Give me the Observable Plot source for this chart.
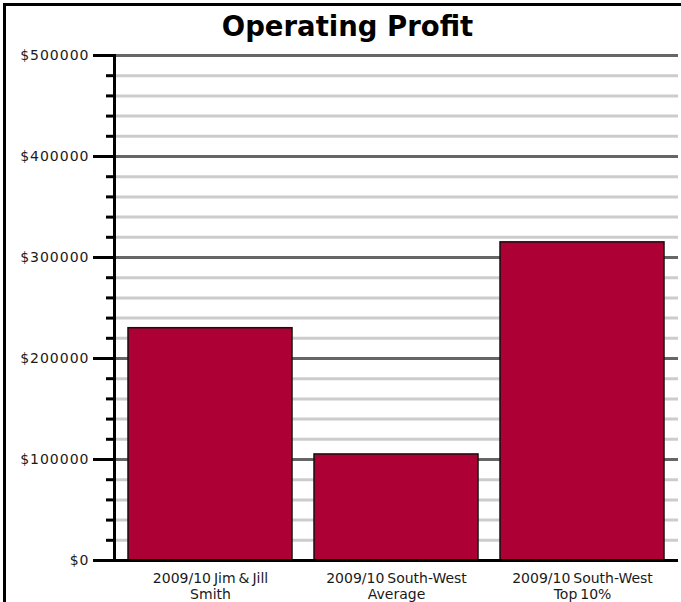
<!DOCTYPE html>
<html><head><meta charset="utf-8">
<script src="https://cdn.jsdelivr.net/npm/d3@7"></script>
<script src="https://cdn.jsdelivr.net/npm/@observablehq/plot@0.6"></script>
<style>
html,body{margin:0;padding:0;background:#fff;}
body{overflow:hidden;width:681px;height:602px;position:relative;font-family:"DejaVu Sans",Verdana,sans-serif;}
#chart{position:absolute;left:0;top:0;}
#border{position:absolute;left:3px;top:3px;width:720px;height:720px;border-left:3px solid #000;border-top:3px solid #000;}
#title{position:absolute;left:0;top:11px;width:695px;text-align:center;font-weight:bold;font-size:27.5px;line-height:30px;color:#000;}
#chart g[aria-label="y-axis tick label"] text{letter-spacing:1px;}
#chart g[aria-label="x-axis tick label"] text{letter-spacing:0;word-spacing:-1.5px;}
</style></head>
<body>
<div id="chart"></div>
<div id="border"></div>
<div id="title">Operating Profit</div>
<script>
const categories = ["2009/10 Jim & Jill\nSmith", "2009/10 South-West\nAverage", "2009/10 South-West\nTop 10%"];
const profits = [230000, 105000, 315000];
const majorTicks = [0, 100000, 200000, 300000, 400000, 500000];
const minorTicks = [20000, 40000, 60000, 80000, 120000, 140000, 160000, 180000, 220000, 240000, 260000, 280000, 320000, 340000, 360000, 380000, 420000, 440000, 460000, 480000];

const data = categories.map((c, i) => ({category: c, profit: profits[i]}));

const plot = Plot.plot({
  width: 681,
  height: 602,
  marginLeft: 114,
  marginRight: 3,
  marginTop: 55,
  marginBottom: 42,
  style: {fontFamily: "DejaVu Sans, Verdana, sans-serif", fontSize: "14px", color: "#1a1a1a", background: "transparent"},
  x: {domain: categories, paddingInner: 0.118, paddingOuter: 0.07, label: null},
  y: {domain: [0, 500000], label: null},
  marks: [
    Plot.ruleY(minorTicks, {stroke: "#cccccc", strokeWidth: 3}),
    Plot.ruleY(majorTicks.slice(1), {stroke: "#666666", strokeWidth: 3}),
    Plot.barY(data, {x: "category", y: "profit", fill: "#ad0034", stroke: "#111", strokeWidth: 1.5}),
    Plot.axisY({ticks: minorTicks, tickSize: 8, strokeWidth: 3, stroke: "#000", tickFormat: () => ""}),
    Plot.axisY({ticks: majorTicks, tickSize: 21, tickPadding: 4, strokeWidth: 3, stroke: "#000", fontSize: 14, tickFormat: d => "$" + d}),
    Plot.axisX({tickSize: 0, tickPadding: 11, lineHeight: 1.15, fontSize: 14}),
    Plot.ruleY([0], {stroke: "#000", strokeWidth: 3}),
    Plot.frame({anchor: "left", stroke: "#000", strokeWidth: 3})
  ]
});
document.getElementById("chart").appendChild(plot);
</script>
</body></html>
